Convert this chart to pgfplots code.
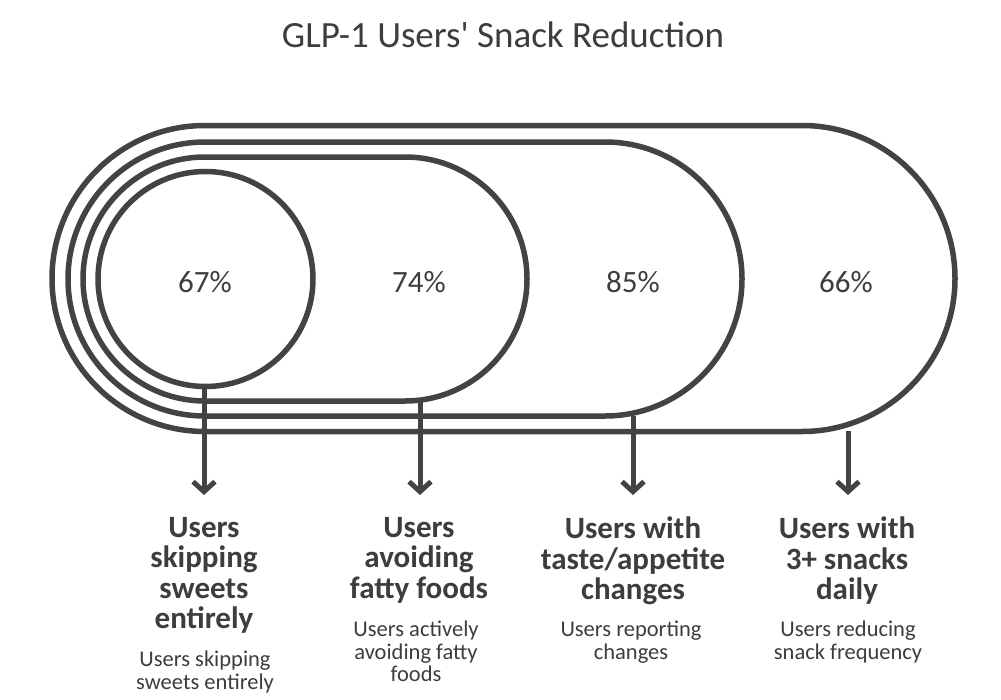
\documentclass[border=0pt]{standalone}
\usepackage{pgfplots}
\pgfplotsset{compat=1.18}
\usepackage{fontspec}
\setmainfont{Carlito}
\usetikzlibrary{arrows.meta}
\definecolor{ink}{HTML}{434343}
\definecolor{txt}{HTML}{3d3d3d}
\begin{document}
\begin{tikzpicture}
\begin{axis}[
  scale only axis, width=1001bp, height=699bp,
  xmin=0, xmax=1001, ymin=0, ymax=699, y dir=reverse,
  hide axis, clip=false,
]
\path (axis cs:0,0) rectangle (axis cs:1001,699);
% title
\node[txt, font=\fontsize{37bp}{42bp}\selectfont, anchor=center] at (axis cs:503,35) {GLP-1 Users{\addfontfeature{Ligatures=TeXOff}'} Snack Reduction};
% nested shapes
\draw[ink, line width=5.5bp] (axis cs:205,125.5) -- (axis cs:802,125.5) arc[start angle=90,end angle=-90,radius=153bp] -- (axis cs:205,431.5) arc[start angle=270,end angle=90,radius=153bp] -- cycle;
\draw[ink, line width=5.5bp] (axis cs:205,142) -- (axis cs:605,142) arc[start angle=90,end angle=-90,radius=137bp] -- (axis cs:205,416) arc[start angle=270,end angle=90,radius=137bp] -- cycle;
\draw[ink, line width=5.5bp] (axis cs:205,157) -- (axis cs:405,157) arc[start angle=90,end angle=-90,radius=122bp] -- (axis cs:205,401) arc[start angle=270,end angle=90,radius=122bp] -- cycle;
\draw[ink, line width=5.5bp] (axis cs:205.5,279) circle[radius=107.5bp];
% arrows
\addplot[ink, line width=5bp, -{Straight Barb[length=10bp,width=22bp,line width=5bp]}] coordinates {(204,387) (204,495)};
\addplot[ink, line width=5bp, -{Straight Barb[length=10bp,width=22bp,line width=5bp]}] coordinates {(420,401) (420,495)};
\addplot[ink, line width=5bp, -{Straight Barb[length=10bp,width=22bp,line width=5bp]}] coordinates {(633,416) (633,495)};
\addplot[ink, line width=5bp, -{Straight Barb[length=10bp,width=22bp,line width=5bp]}] coordinates {(848,431) (848,495)};
% percentages
\addplot[draw=none, mark=none, nodes near coords, point meta=explicit symbolic,
  nodes near coords style={anchor=center, text=txt, font=\fontsize{31bp}{34bp}\selectfont}]
  coordinates {(205,282) [67\%] (419,282) [74\%] (633,282) [85\%] (846,282) [66\%]};
% labels
\begin{scope}[every node/.style={txt, align=center, anchor=north, inner sep=0pt}]
\node[font=\bfseries\fontsize{31bp}{30.5bp}\selectfont] at (axis cs:204,517) {Users\\skipping\\sweets\\entirely};
\node[font=\bfseries\fontsize{31bp}{30.5bp}\selectfont] at (axis cs:419,517) {Users\\avoiding\\fatty foods};
\node[font=\bfseries\fontsize{31bp}{30.5bp}\selectfont] at (axis cs:633,517) {Users with\\taste/appetite\\changes};
\node[font=\bfseries\fontsize{31bp}{30.5bp}\selectfont] at (axis cs:847,517) {Users with\\3+ snacks\\daily};
\node[font=\fontsize{22.5bp}{22.5bp}\selectfont] at (axis cs:205,651) {Users skipping\\sweets entirely};
\node[font=\fontsize{22.5bp}{22.5bp}\selectfont] at (axis cs:416,621) {Users actively\\avoiding fatty\\foods};
\node[font=\fontsize{22.5bp}{22.5bp}\selectfont] at (axis cs:631,621) {Users reporting\\changes};
\node[font=\fontsize{22.5bp}{22.5bp}\selectfont] at (axis cs:848,621) {Users reducing\\snack frequency};
\end{scope}
\end{axis}
\end{tikzpicture}
\end{document}
